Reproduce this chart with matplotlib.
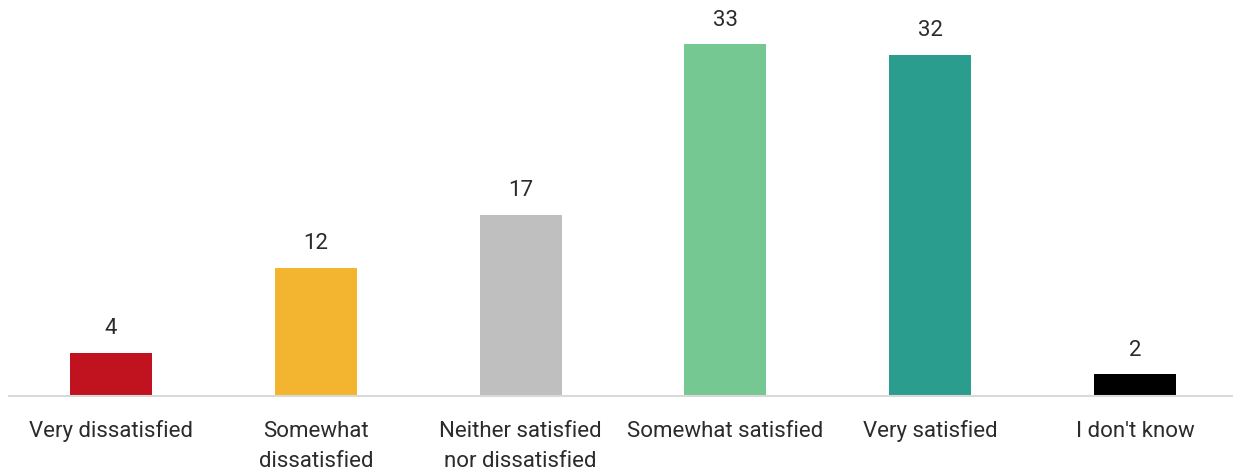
import numpy as np
import matplotlib.pyplot as plt

# Satisfaction survey results (%)
categories = ["Very dissatisfied", "Somewhat\ndissatisfied", "Neither satisfied\nnor dissatisfied",
              "Somewhat satisfied", "Very satisfied", "I don't know"]
values = [4, 12, 17, 33, 32, 2]
colors = ["#C1121F", "#F3B52F", "#BFBFBF", "#76C893", "#2A9D8F", "#000000"]

plt.rcParams['font.family'] = ['Roboto', 'DejaVu Sans']

fig = plt.figure(figsize=(12.33, 4.72), dpi=100)
ax = fig.add_axes([0.007, 0.162, 0.9966, 0.812])

x = np.arange(len(values))
bars = ax.bar(x, values, width=0.4, color=colors, zorder=2)

# value labels above the bars
for xi, v in zip(x, values):
    ax.text(xi, v + 1.75, str(v), ha='center', va='baseline', fontsize=16,
            color='#2b2b2b')

# category labels, one line at a time so every baseline lines up
for xi, lab in zip(x, categories):
    for j, line in enumerate(lab.split('\n')):
        ax.annotate(line, xy=(xi, 0), xycoords=('data', 'axes fraction'),
                    xytext=(0, -29.5 - 21.6 * j), textcoords='offset points',
                    ha='center', va='baseline', fontsize=16, color='#2b2b2b')

ax.set_xlim(-0.5, 5.5)
ax.set_ylim(0, 36)
ax.set_yticks([])
ax.set_xticks([])

for side in ['top', 'right', 'left']:
    ax.spines[side].set_visible(False)
ax.spines['bottom'].set_color('#D9D9D9')
ax.spines['bottom'].set_linewidth(1.5)

fig.savefig('out.png', dpi=100)
